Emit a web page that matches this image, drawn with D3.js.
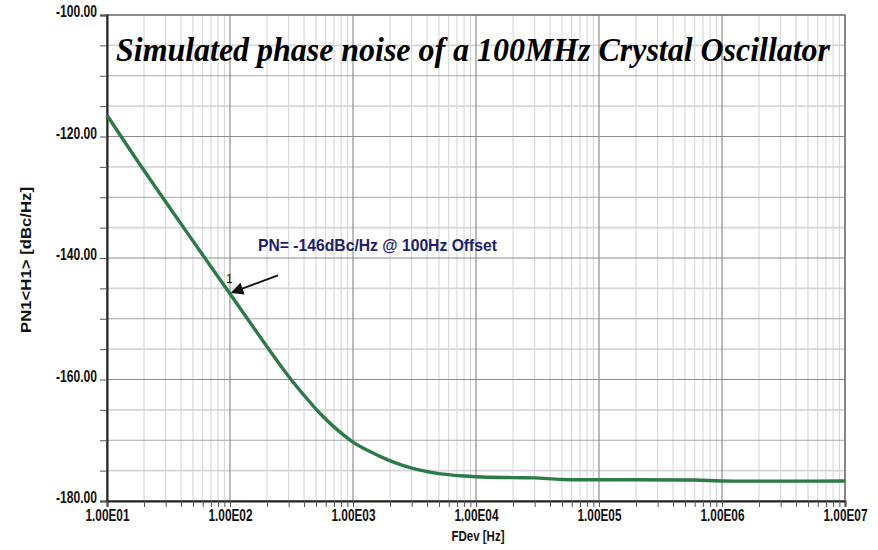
<!DOCTYPE html>
<html><head><meta charset="utf-8">
<script src="https://cdn.jsdelivr.net/npm/d3@7"></script>
<style>body{margin:0;background:#fff}svg{display:block}</style>
</head><body>
<script>
const freqs = [10, 20, 50, 100, 200, 300, 400, 540, 700, 1000, 1400, 1900, 2500, 3300, 5000, 10000, 20000, 30000, 50000, 100000, 600000, 1000000, 10000000];
const pnValues = [-116.5, -125.6, -137.2, -145.9, -154.6, -159.5, -162.6, -165.6, -167.8, -170.3, -171.95, -173.2, -174.1, -174.8, -175.5, -176.0, -176.15, -176.2, -176.45, -176.5, -176.55, -176.7, -176.7];
const xTicks = [1e1, 1e2, 1e3, 1e4, 1e5, 1e6, 1e7];
const xTickLabels = ["1.00E01", "1.00E02", "1.00E03", "1.00E04", "1.00E05", "1.00E06", "1.00E07"];
const yTicks = [-100, -120, -140, -160, -180];
const yTickLabels = ["-100.00", "-120.00", "-140.00", "-160.00", "-180.00"];
const titleText = "Simulated phase noise of a 100MHz Crystal Oscillator";
const xTitle = "FDev [Hz]";
const yTitle = "PN1<H1> [dBc/Hz]";
const markerFreq = 100, markerPN = -146;
const annotationText = "PN= -146dBc/Hz @ 100Hz Offset";

const W = 878, H = 550;
const m = {left: 107, right: 33, top: 15, bottom: 49};
const svg = d3.select("body").append("svg").attr("width", W).attr("height", H);
const x = d3.scaleLog().domain([1e1, 1e7]).range([m.left, W - m.right]);
const y = d3.scaleLinear().domain([-180, -100]).range([H - m.bottom, m.top]);
const sans = "Liberation Sans, Arial, sans-serif";

function squeeze(sel, w) {
  sel.each(function () {
    if (!this.textContent) return;
    d3.select(this).attr("textLength", w).attr("lengthAdjust", "spacingAndGlyphs");
  });
}

const g = svg.append("g");
const minorX = [];
for (let d = 1; d < 7; d++) for (let k = 2; k <= 9; k++) minorX.push(k * Math.pow(10, d));
g.selectAll(".vminor").data(minorX).enter().append("line")
  .attr("x1", d => x(d)).attr("x2", d => x(d)).attr("y1", y(-100)).attr("y2", y(-180))
  .attr("stroke", "#d2d2d2").attr("stroke-width", 1);
const hGrid = d3.range(-175, -100, 5).filter(v => v % 20 !== 0);
g.selectAll(".hminor").data(hGrid).enter().append("line")
  .attr("x1", x(1e1)).attr("x2", x(1e7)).attr("y1", d => y(d)).attr("y2", d => y(d))
  .attr("stroke", d => d % 10 === 0 ? "#a8a8a8" : "#d6d6d6")
  .attr("stroke-width", d => d % 10 === 0 ? 1 : 1.6);
g.selectAll(".vmajor").data(xTicks).enter().append("line")
  .attr("x1", d => x(d)).attr("x2", d => x(d)).attr("y1", y(-100)).attr("y2", y(-180))
  .attr("stroke", "#8c8c8c").attr("stroke-width", 1.2);
g.selectAll(".hmajor").data(yTicks).enter().append("line")
  .attr("x1", x(1e1)).attr("x2", x(1e7)).attr("y1", d => y(d)).attr("y2", d => y(d))
  .attr("stroke", "#8c8c8c").attr("stroke-width", 1.2);

svg.append("rect").attr("x", x(1e1)).attr("y", y(-100)).attr("width", x(1e7) - x(1e1)).attr("height", y(-180) - y(-100))
  .attr("fill", "none").attr("stroke", "#777").attr("stroke-width", 1.5);

const yAxis = d3.axisLeft(y).tickValues(d3.range(-180, -99, 5)).tickSize(7).tickPadding(3)
  .tickFormat(d => { const i = yTicks.indexOf(d); return i >= 0 ? yTickLabels[i] : ""; });
const ya = svg.append("g").attr("transform", `translate(${x(1e1)},0)`).call(yAxis);
const xAxis = d3.axisBottom(x).tickValues(xTicks.concat(minorX)).tickSize(6).tickPadding(3)
  .tickFormat(d => { const i = xTicks.indexOf(d); return i >= 0 ? xTickLabels[i] : ""; });
const xa = svg.append("g").attr("transform", `translate(0,${y(-180)})`).call(xAxis);
[ya, xa].forEach(a => {
  a.select(".domain").attr("stroke", "#222").attr("stroke-width", 2);
  a.selectAll(".tick line").attr("stroke", "#555");
  a.selectAll("text").attr("font-family", sans).attr("font-weight", "bold")
    .attr("font-size", 16).attr("fill", "#111");
});
ya.selectAll("text").attr("dy", "0.1em");
xa.selectAll("text").attr("dy", "0.68em");
squeeze(ya.selectAll("text"), 41);
squeeze(xa.selectAll("text"), 44);

const line = d3.line().x((d, i) => x(freqs[i])).y(d => y(d)).curve(d3.curveCatmullRom.alpha(0.5));
svg.append("path").datum(pnValues).attr("d", line).attr("fill", "none")
  .attr("stroke", "#2d7a48").attr("stroke-width", 3.4);

svg.append("text").attr("x", 473).attr("y", 61).attr("text-anchor", "middle")
  .attr("font-family", "Liberation Serif, Times New Roman, serif").attr("font-style", "italic").attr("font-weight", "bold")
  .attr("font-size", 33).attr("textLength", 714).attr("lengthAdjust", "spacingAndGlyphs").text(titleText);

svg.append("text").attr("x", 478).attr("y", 541).attr("text-anchor", "middle")
  .attr("font-family", sans).attr("font-weight", "bold").attr("font-size", 15)
  .attr("fill", "#111").attr("textLength", 53).attr("lengthAdjust", "spacingAndGlyphs").text(xTitle);
svg.append("text").attr("transform", `translate(31,${(y(-100) + y(-180)) / 2 + 2}) rotate(-90)`).attr("text-anchor", "middle")
  .attr("font-family", sans).attr("font-weight", "bold").attr("font-size", 15)
  .attr("fill", "#111").attr("textLength", 146).attr("lengthAdjust", "spacingAndGlyphs").text(yTitle);

const mx = x(markerFreq), my = y(markerPN);
svg.append("defs").append("marker").attr("id", "ah").attr("viewBox", "0 0 10 10").attr("refX", 9).attr("refY", 5)
  .attr("markerWidth", 7).attr("markerHeight", 7).attr("orient", "auto")
  .append("path").attr("d", "M0,0 L10,5 L0,10 z").attr("fill", "#111");
svg.append("line").attr("x1", mx + 48).attr("y1", my - 19).attr("x2", mx + 2).attr("y2", my - 2)
  .attr("stroke", "#111").attr("stroke-width", 1.8).attr("marker-end", "url(#ah)");
svg.append("text").attr("x", mx - 4).attr("y", my - 11).attr("font-family", sans)
  .attr("font-size", 12).attr("fill", "#111").text("1");
svg.append("text").attr("x", 258).attr("y", 251).attr("font-family", sans)
  .attr("font-weight", "bold").attr("font-size", 16.5).attr("fill", "#1e1e6e")
  .attr("textLength", 239).attr("lengthAdjust", "spacingAndGlyphs").text(annotationText);
</script>
</body></html>
